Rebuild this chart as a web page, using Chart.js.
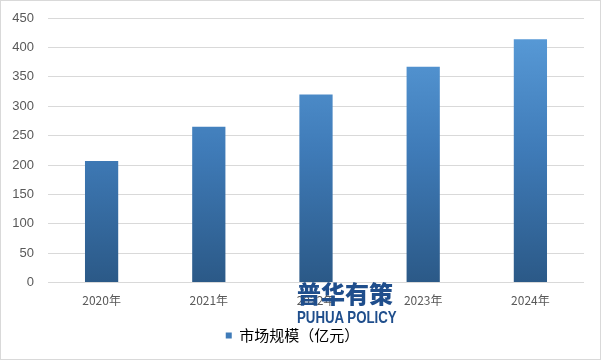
<!DOCTYPE html>
<html>
<head>
<meta charset="utf-8">
<script src="https://cdn.jsdelivr.net/npm/chart.js@4"></script>
<style>
  body { margin: 0; background: #fff; }
  #wrap { position: relative; width: 601px; height: 360px; box-sizing: border-box; border: 1px solid #d9d9d9; }
  #mark { position: absolute; left: 296px; top: 278px; color: #1f4e8c; font-family: "Noto Sans CJK SC", sans-serif; pointer-events: none; }
  #mark .cn { font-size: 24px; font-weight: 900; line-height: 28px; }
  #mark .en { font-family: "Liberation Sans", Arial, sans-serif; font-size: 17px; font-weight: bold; line-height: 20px; transform: scaleX(0.78); transform-origin: left; white-space: nowrap; margin-top: 1px; }
</style>
</head>
<body>
<div id="wrap">
  <canvas id="graph" width="599" height="358"></canvas>
  <div id="mark"><div class="cn">普华有策</div><div class="en">PUHUA POLICY</div></div>
</div>
<script>
// データ
var years  = ['2020年', '2021年', '2022年', '2023年', '2024年'];
var market = [207, 265, 320, 367, 414];
var seriesName = '市场规模（亿元）';

var ctx = document.getElementById('graph').getContext('2d');

// 棒のグラデーション
function barGradient(context) {
    var area = context.chart.chartArea;
    if (!area) return '#4a86c5';
    var g = context.chart.ctx.createLinearGradient(0, area.top, 0, area.bottom);
    g.addColorStop(0, '#5b9edb');
    g.addColorStop(0.5, '#3f7bb8');
    g.addColorStop(1, '#2b5987');
    return g;
}

var myChart = new Chart(ctx, {
    type: 'bar',
    data: {
        labels: years,
        datasets: [{
            label: seriesName,
            data: market,
            backgroundColor: barGradient,
            borderWidth: 0,
            categoryPercentage: 1,
            barPercentage: 0.31
        }]
    },
    options: {
        responsive: false,
        animation: false,
        layout: { padding: { left: 0, right: 16, top: 0, bottom: 6 } },
        plugins: {
            tooltip: { enabled: false },
            title: { display: false },
            legend: {
                position: 'bottom',
                labels: {
                    color: '#595959',
                    font: { family: '"Noto Sans CJK SC", sans-serif', size: 15 },
                    boxWidth: 6,
                    boxHeight: 6,
                    padding: 11,
                    generateLabels: function(chart) {
                        return [{ text: seriesName, fillStyle: '#3f7bb8', strokeStyle: '#3f7bb8', lineWidth: 0, datasetIndex: 0 }];
                    }
                }
            }
        },
        scales: {
            x: {
                grid: { display: false },
                border: { display: false },
                afterFit: function(s) { s.height += 6; },
                ticks: {
                    color: '#595959',
                    padding: 3,
                    font: { family: '"Noto Sans CJK SC", sans-serif', size: 12 }
                }
            },
            y: {
                min: 0,
                max: 450,
                afterFit: function(s) { s.width = 47; s.paddingTop = 17; },
                ticks: {
                    stepSize: 50,
                    color: '#595959',
                    padding: 14,
                    font: { family: '"Liberation Sans", Arial, sans-serif', size: 13 }
                },
                grid: { color: '#d9d9d9', drawTicks: false },
                border: { display: false }
            }
        }
    }
});
</script>
</body>
</html>
